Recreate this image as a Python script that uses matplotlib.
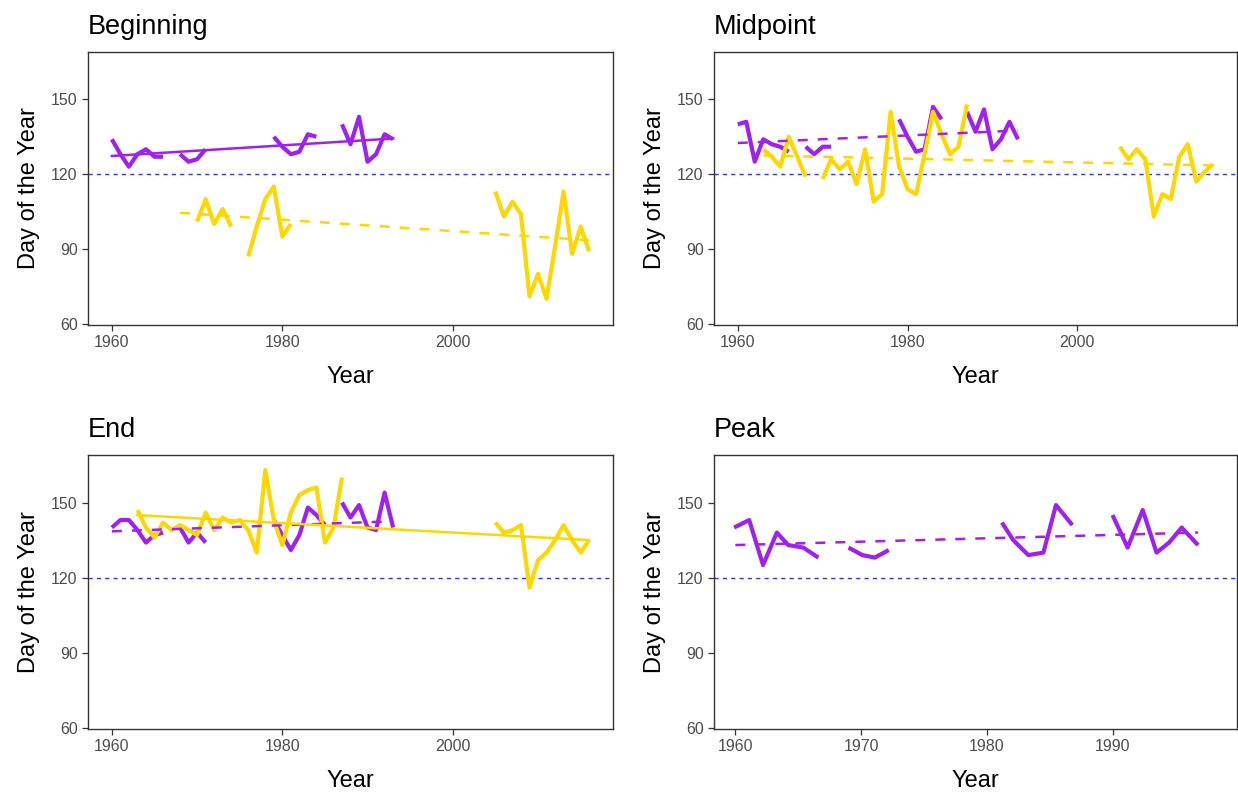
import numpy as np
import matplotlib.pyplot as plt

nan = np.nan

plt.rcParams['font.family'] = ['Liberation Sans', 'DejaVu Sans']

PURPLE = '#A020F0'
GOLD = '#FFD700'

# early period (purple), one value per year, NaN where no data
purple_years = list(range(1960, 1994))
beg_purple = [134, 128, 123, 128, 130, 127, 127, nan, 128, 125, 126, 130,
              nan, nan, nan, nan, nan, nan, nan,
              135, 131, 128, 129, 136, 135, nan, nan,
              140, 132, 143, 125, 128, 136, 134]
mid_purple = [140, 141, 125, 134, 132, 131, 129, nan, 131, 128, 131, 131,
              nan, nan, nan, nan, nan, nan, nan,
              142, 135, 129, 130, 147, 142, nan, nan,
              145, 137, 146, 130, 134, 141, 134]
end_purple = [140, 143, 143, 139, 134, 137, 138, nan, 140, 134, 138, 134,
              nan, nan, nan, nan, nan, nan, nan,
              143, 137, 131, 137, 148, 145, 141, nan,
              150, 144, 149, 140, 139, 154, 140]

peak_years = [1959.9, 1961.1, 1962.2, 1963.3, 1964.2, 1965.4, 1966.6, 1967.8,
              1969.0, 1970.1, 1971.1, 1972.2, 1976.0,
              1981.2, 1982.1, 1983.3, 1984.5, 1985.5, 1986.8, 1988.5,
              1990.0, 1991.2, 1992.4, 1993.5, 1994.5, 1995.5, 1996.8]
peak_purple = [140, 143, 125, 138, 133, 132, 128, nan,
               132, 129, 128, 131, nan,
               142, 135, 129, 130, 149, 141, nan,
               145, 132, 147, 130, 134, 140, 133]

# later period (gold)
beg_gold_years = [1970, 1971, 1972, 1973, 1974, 1975, 1976, 1977, 1978, 1979,
                  1980, 1981, 1982] + list(range(2005, 2017))
beg_gold = [101, 110, 100, 106, 99, nan, 87, 99, 110, 115, 95, 100, nan,
            113, 103, 109, 104, 71, 80, 70, 91, 113, 88, 99, 89]

mid_gold_years = list(range(1963, 1989)) + list(range(2005, 2017))
mid_gold = [130, 127, 123, 135, 127, 119, nan, 118, 126, 122, 125, 116, 130,
            109, 112, 145, 123, 114, 112, 128, 145, 136, 128, 131, 148, nan,
            131, 126, 130, 126, 103, 112, 110, 127, 132, 117, 121, 124]

end_gold_years = list(range(1963, 1989)) + list(range(2005, 2017))
end_gold = [147, 140, 136, 142, 139, 141, 139, 137, 146, 139, 144, 142, 143,
            139, 130, 163, 143, 133, 146, 153, 155, 156, 134, 140, 160, nan,
            142, 138, 139, 141, 116, 127, 130, 135, 141, 135, 130, 135]

# fitted trend lines: (start year, end year), (start value, end value)
beg_purple_trend = ([1960, 1993], [127.3, 134.3])
beg_gold_trend = ([1968, 2016], [104.5, 93.5])
mid_purple_trend = ([1960, 1993], [132.5, 137.5])
mid_gold_trend = ([1963, 2016], [127.5, 123.5])
end_purple_trend = ([1960, 1993], [138.5, 142.5])
end_gold_trend = ([1963, 2016], [145.0, 135.0])
peak_purple_trend = ([1960, 1996.8], [133.0, 138.0])

REF_DAY = 120

fig = plt.figure(figsize=(12.38, 7.94), dpi=100)
W, H = 1238, 794


def make_ax(l, t, r, b):
    return fig.add_axes([l / W, 1 - b / H, (r - l) / W, (b - t) / H])


def style(ax, title, xlim, xticks):
    ax.set_xlim(*xlim)
    ax.set_ylim(59.5, 169)
    ax.set_xticks(xticks)
    ax.set_yticks([60, 90, 120, 150])
    for s in ax.spines.values():
        s.set_color('#333333')
        s.set_linewidth(1.0)
    ax.tick_params(colors='#333333', labelcolor='#4D4D4D', labelsize=11.5,
                   length=4, width=0.9)
    ax.set_xlabel('Year', fontsize=17, color='black', labelpad=11)
    ax.set_ylabel('Day of the Year', fontsize=17, color='black', labelpad=8)
    ax.set_title(title, loc='left', fontsize=19.5, pad=13)
    ax.axhline(REF_DAY, color='#3434FF', lw=1.0, dashes=(3, 3), zorder=1)


def trend(ax, tr, color, dashed):
    if dashed:
        ax.plot(tr[0], tr[1], color=color, lw=1.8, dashes=(4, 4), zorder=3)
    else:
        ax.plot(tr[0], tr[1], color=color, lw=1.8, zorder=3)


def data(ax, x, y, color):
    ax.plot(x, y, color=color, lw=3.0, solid_joinstyle='round',
            solid_capstyle='butt', zorder=2)


full = (1957.2, 2018.8)
ticks_full = [1960, 1980, 2000]

ax1 = make_ax(88, 52, 613, 325)
style(ax1, 'Beginning', full, ticks_full)
data(ax1, purple_years, beg_purple, PURPLE)
data(ax1, beg_gold_years, beg_gold, GOLD)
trend(ax1, beg_purple_trend, PURPLE, False)
trend(ax1, beg_gold_trend, GOLD, True)

ax2 = make_ax(714, 52, 1237, 325)
style(ax2, 'Midpoint', full, ticks_full)
data(ax2, purple_years, mid_purple, PURPLE)
data(ax2, mid_gold_years, mid_gold, GOLD)
trend(ax2, mid_purple_trend, PURPLE, True)
trend(ax2, mid_gold_trend, GOLD, True)

ax3 = make_ax(88, 455, 613, 729)
style(ax3, 'End', full, ticks_full)
data(ax3, purple_years, end_purple, PURPLE)
data(ax3, end_gold_years, end_gold, GOLD)
trend(ax3, end_purple_trend, PURPLE, True)
trend(ax3, end_gold_trend, GOLD, False)

ax4 = make_ax(714, 455, 1237, 729)
style(ax4, 'Peak', (1958.3, 1999.9), [1960, 1970, 1980, 1990])
data(ax4, peak_years, peak_purple, PURPLE)
trend(ax4, peak_purple_trend, PURPLE, True)

fig.savefig('out.png', dpi=100)
